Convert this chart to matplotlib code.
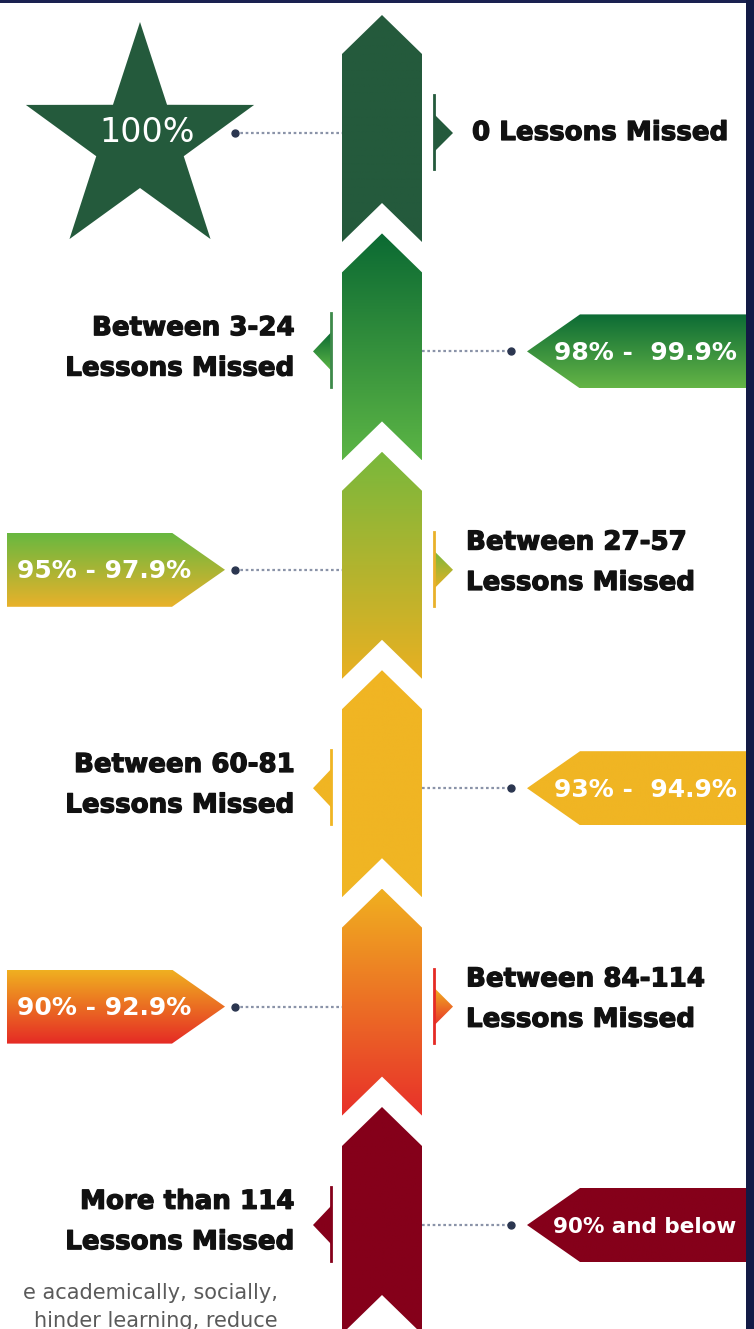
import numpy as np
import matplotlib
matplotlib.use("Agg")
import matplotlib.pyplot as plt
import matplotlib.patheffects as pe
from matplotlib.patches import Polygon, Rectangle
from matplotlib.colors import LinearSegmentedColormap

# Données de l'infographie (de haut en bas)
attendance = ['100%', '98% -  99.9%', '95% - 97.9%', '93% -  94.9%', '90% - 92.9%', '90% and below']
lessons = ['0 Lessons Missed', 'Between 3-24\nLessons Missed', 'Between 27-57\nLessons Missed',
           'Between 60-81\nLessons Missed', 'Between 84-114\nLessons Missed', 'More than 114\nLessons Missed']
col_top = ['#245a3c', '#0b6a33', '#78b83c', '#f0b523', '#f0b020', '#85001a']
col_bot = ['#245a3c', '#5cb545', '#e9b022', '#f0b523', '#e8302a', '#85001a']
box_top = ['#245a3c', '#0c6b35', '#68b840', '#f0b523', '#f0b020', '#85001a']
box_bot = ['#245a3c', '#65b546', '#e9b12a', '#f0b523', '#e52a25', '#85001a']
footer = ['e academically, socially,', 'hinder learning, reduce']

W, H = 754, 1329
fig = plt.figure(figsize=(W / 100, H / 100), dpi=100)
ax = fig.add_axes([0, 0, 1, 1])


def grad_poly(pts, c1, c2):
    poly = Polygon(pts, closed=True, facecolor='none', edgecolor='none')
    ax.add_patch(poly)
    xs = [p[0] for p in pts]
    ys = [p[1] for p in pts]
    cmap = LinearSegmentedColormap.from_list('g', [c1, c2])
    grad = np.linspace(0, 1, 256).reshape(-1, 1)
    im = ax.imshow(grad, cmap=cmap, extent=(min(xs), max(xs), max(ys), min(ys)),
                   aspect='auto', origin='upper', interpolation='bilinear', zorder=2)
    im.set_clip_path(poly)


# colonne de chevrons
cx, half, d, seg_h, pitch = 382, 40, 39, 227, 218.4
for i in range(len(attendance)):
    yt = 15 + pitch * i
    pts = [(cx, yt), (cx + half, yt + d), (cx + half, yt + seg_h), (cx, yt + seg_h - d),
           (cx - half, yt + seg_h), (cx - half, yt + d)]
    grad_poly(pts, col_top[i], col_bot[i])

heavy = [pe.withStroke(linewidth=0.9, foreground='#111111')]
label_kw = dict(fontsize=18.8, fontweight='bold', color='#111111', linespacing=1.72,
                va='center', family='DejaVu Sans', path_effects=heavy)
pct_kw = dict(fontsize=18, fontweight='bold', color='white', ha='center', va='center',
              family='DejaVu Sans', zorder=5)

for i in range(len(attendance)):
    y = 15 + pitch * i + 118
    right_label = (i % 2 == 0)
    if right_label:
        # indicateur à droite + libellé des leçons
        ax.plot([434, 434], [y - 38, y + 36], color=box_bot[i] if i else col_top[i], lw=2, zorder=3)
        grad_poly([(434, y - 19), (453, y), (434, y + 19)], col_top[i], col_bot[i])
        if i == 0:
            ax.text(472, y, lessons[i], ha='left', **label_kw)
        else:
            ax.text(466, y - 7, lessons[i], ha='left', **label_kw)
        # ligne pointillée vers la gauche
        ax.plot([235, cx - half], [y, y], ls=(0, (1.2, 1.2)), color='#8a93a8', lw=1.6, zorder=1)
        ax.plot(235, y, 'o', ms=5, color='#2b3650', zorder=4)
        if i == 0:
            t = np.linspace(0, 2 * np.pi, 11)[:-1] + np.pi / 2
            r = np.where(np.arange(10) % 2 == 0, 120, 46)
            star = list(zip(140 + r * np.cos(t), 142 - r * np.sin(t)))
            ax.add_patch(Polygon(star, closed=True, facecolor=col_top[0], edgecolor='none', zorder=2))
            ax.text(147, y, attendance[0], fontsize=24, color='white', ha='center', va='center',
                    family='DejaVu Sans', zorder=5)
        else:
            box = [(7, y - 37), (172, y - 37), (225, y), (172, y + 37), (7, y + 37)]
            grad_poly(box, box_top[i], box_bot[i])
            ax.text(104, y + 1, attendance[i], **pct_kw)
    else:
        ax.plot([331, 331], [y - 38, y + 36], color=box_bot[i] if i != 1 else '#3d8a4a', lw=2, zorder=3)
        grad_poly([(331, y - 19), (313, y), (331, y + 19)], col_top[i], col_bot[i])
        ax.text(295, y - 3, lessons[i], ha='right', **label_kw)
        ax.plot([cx + half, 511], [y, y], ls=(0, (1.2, 1.2)), color='#8a93a8', lw=1.6, zorder=1)
        ax.plot(511, y, 'o', ms=5, color='#2b3650', zorder=4)
        box = [(527, y), (580, y - 37), (746, y - 37), (746, y + 37), (580, y + 37)]
        grad_poly(box, box_top[i], box_bot[i])
        kw = dict(pct_kw)
        if i == 5:
            kw['fontsize'] = 15.5
        ax.text(645, y + 2, attendance[i], **kw)

# texte de bas de page (coupé)
for j, line in enumerate(footer):
    ax.text(278, 1293 + 28 * j, line, fontsize=15, color='#5a5a5a', ha='right', va='center',
            family='DejaVu Sans')

# cadre sombre
ax.add_patch(Rectangle((0, 0), W, 2.5, facecolor='#1a2150', edgecolor='none', zorder=6))
ax.add_patch(Rectangle((746, 0), 8, H, facecolor='#131a45', edgecolor='none', zorder=6))

ax.set_xlim(0, W)
ax.set_ylim(H, 0)
ax.axis('off')
fig.savefig('out.png', dpi=100, facecolor='white')
